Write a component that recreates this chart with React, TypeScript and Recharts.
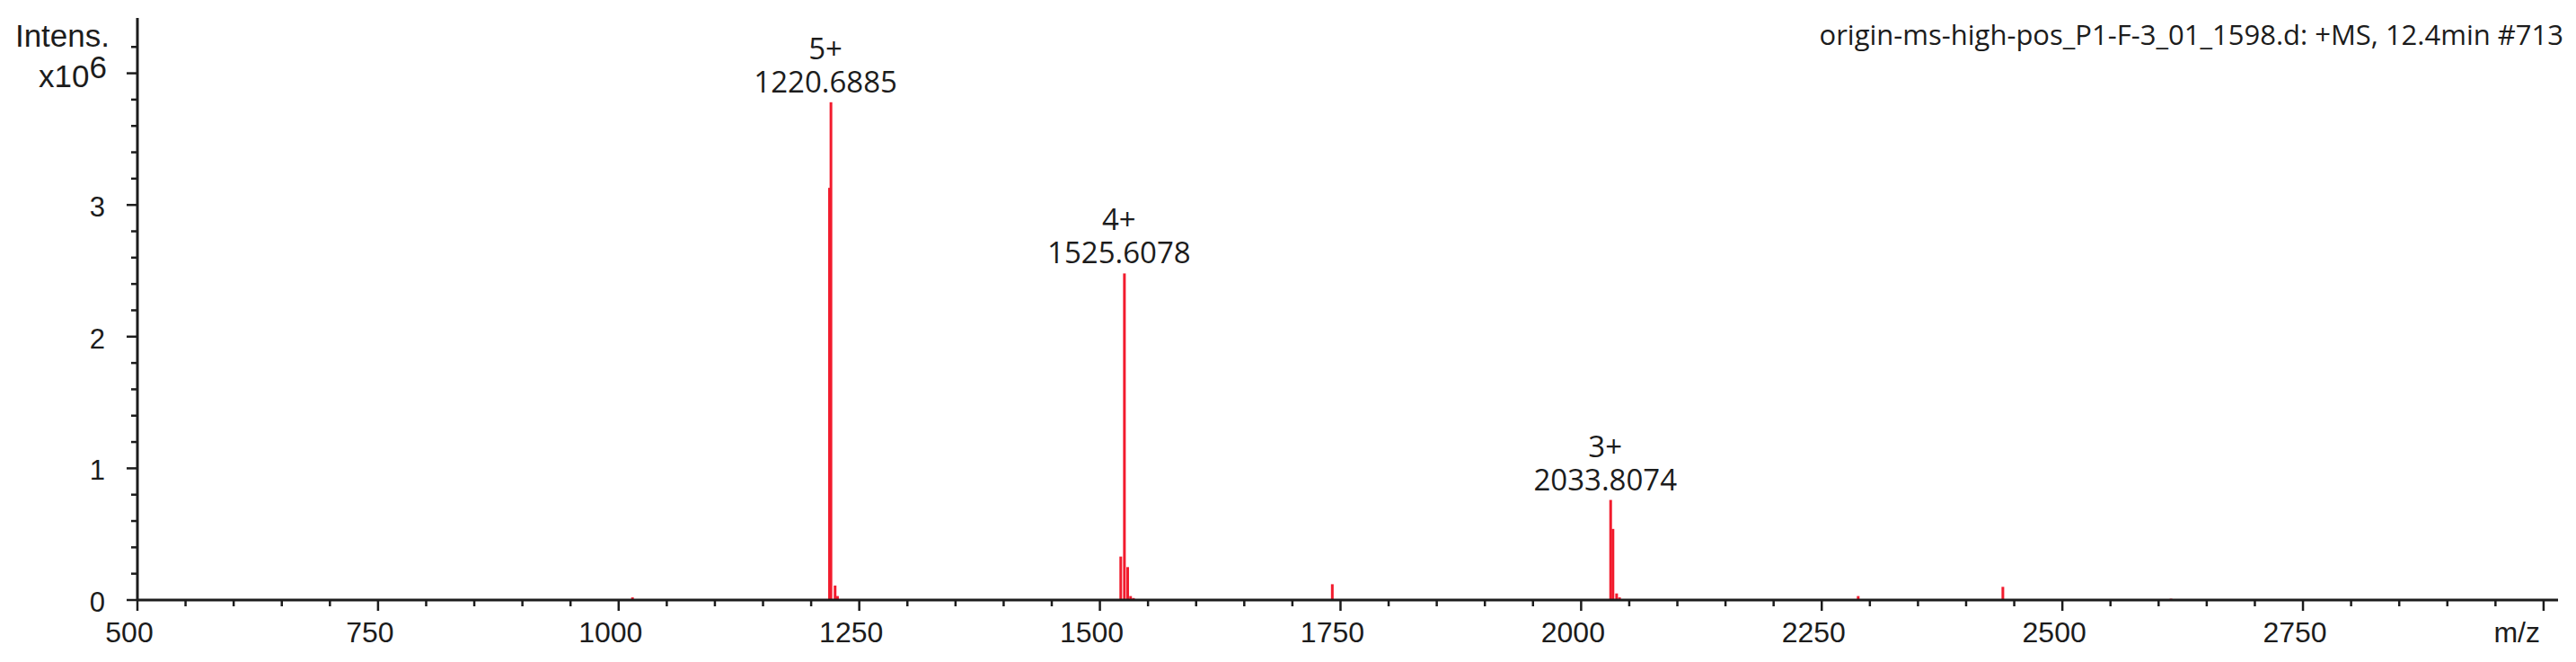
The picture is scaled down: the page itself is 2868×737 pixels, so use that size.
import { Bar, BarChart, LabelList, XAxis, YAxis } from "recharts";

// stick spectrum, intensities in units of 1e6
const PEAK_MZ = [
  1014.5, 1219.2, 1220.69, 1225.0, 1227.5, 1521.8, 1525.61, 1529.0, 1532.0,
  1535.0, 1741.6, 2030.8, 2033.2, 2037.0, 2040.0, 2288.0, 2438.3, 2613.0,
];
const PEAK_INTENSITY = [
  0.02, 3.13, 3.78, 0.11, 0.03, 0.33, 2.48, 0.25, 0.03, 0.015, 0.12, 0.76, 0.54,
  0.05, 0.02, 0.03, 0.1, 0.01,
];

// annotated peaks
const LABEL_MZ = [1220.69, 1525.61, 2030.8];
const LABEL_CHARGE = ["5+", "4+", "3+"];
const LABEL_TEXT = ["1220.6885", "1525.6078", "2033.8074"];

const X_TICKS = Array.from({ length: 51 }, (_, i) => 500 + i * 50);
const Y_TICKS = Array.from({ length: 22 }, (_, i) => +(i * 0.2).toFixed(1));
const Y_LABELS = [0, 1, 2, 3];

const TITLE = "origin-ms-high-pos_P1-F-3_01_1598.d: +MS, 12.4min #713";

const RED = "#f21b2d";
const INK = "#1c1c1c";
const AXIS_FONT = "'Liberation Sans', Arial, sans-serif";
const LABEL_FONT = "'Open Sans', 'Noto Sans', sans-serif";

const rows = PEAK_MZ.map((mz, i) => {
  const li = LABEL_MZ.indexOf(mz);
  return { mz, intensity: PEAK_INTENSITY[i], tag: li >= 0 ? li : null };
});

const Stick = (props: any) => {
  const { x, y, width, height } = props;
  if (height == null || isNaN(height)) return null;
  return <rect x={x + width / 2 - 1.5} y={y} width={3} height={Math.max(height, 0.8)} fill={RED} />;
};

const XTick = (props: any) => {
  const { x, y, payload } = props;
  const v = payload.value;
  const major = v % 250 === 0;
  return (
    <g>
      <line x1={x} x2={x} y1={y} y2={y + (major ? 12 : 7)} stroke={INK} strokeWidth={2.5} />
      {major && (
        <text
          x={v === 3000 ? x - 4 : x - 9}
          y={y + 47}
          textAnchor={v === 3000 ? "end" : "middle"}
          fontFamily={AXIS_FONT}
          fontSize={32}
          fill={INK}
        >
          {v === 3000 ? "m/z" : v}
        </text>
      )}
    </g>
  );
};

const YTick = (props: any) => {
  const { x, y, payload } = props;
  const v = payload.value;
  const major = Math.abs(v - Math.round(v)) < 1e-6;
  return (
    <g>
      <line x1={x - (major ? 12 : 7)} x2={x} y1={y} y2={y} stroke={INK} strokeWidth={2.5} />
      {major && Y_LABELS.includes(Math.round(v)) && (
        <text x={x - 36} y={y + 13} textAnchor="end" fontFamily={AXIS_FONT} fontSize={31} fill={INK}>
          {Math.round(v)}
        </text>
      )}
    </g>
  );
};

const PeakLabel = (props: any) => {
  const { x, y, width, value } = props;
  if (value == null) return null;
  const cx = x + width / 2 - 6;
  return (
    <g fontFamily={LABEL_FONT} fontSize={33} fill={INK} textAnchor="middle">
      <text x={cx} y={y - 48}>
        {LABEL_CHARGE[value]}
      </text>
      <text x={cx} y={y - 11}>
        {LABEL_TEXT[value]}
      </text>
    </g>
  );
};

export default function App() {
  return (
    <div style={{ position: "absolute", left: 0, top: 0, width: 2868, height: 737, background: "#fff" }}>
      <BarChart width={2868} height={737} data={rows} margin={{ top: 20, right: 20, left: 0, bottom: 0 }}>
        <XAxis
          dataKey="mz"
          type="number"
          domain={[500, 3015]}
          ticks={X_TICKS}
          interval={0}
          tickLine={false}
          tickSize={0}
          tickMargin={0}
          tick={(p: any) => <XTick {...p} />}
          height={69}
          axisLine={{ stroke: INK, strokeWidth: 3 }}
        />
        <XAxis
          xAxisId="top"
          orientation="top"
          type="number"
          domain={[500, 3015]}
          tick={false}
          tickLine={false}
          height={0}
          axisLine={{ stroke: INK, strokeWidth: 3 }}
        />
        <YAxis
          type="number"
          domain={[0, 4.42]}
          ticks={Y_TICKS}
          interval={0}
          tickLine={false}
          tickSize={0}
          tickMargin={0}
          tick={(p: any) => <YTick {...p} />}
          width={153}
          axisLine={{ stroke: INK, strokeWidth: 3 }}
        />
        <YAxis
          yAxisId="right"
          orientation="right"
          type="number"
          domain={[0, 4.42]}
          tick={false}
          tickLine={false}
          width={0}
          axisLine={{ stroke: INK, strokeWidth: 3 }}
        />
        <Bar dataKey="intensity" shape={<Stick />} isAnimationActive={false}>
          <LabelList dataKey="tag" content={<PeakLabel />} />
        </Bar>
      </BarChart>
      <svg
        width={2868}
        height={737}
        style={{ position: "absolute", left: 0, top: 0, pointerEvents: "none" }}
      >
        <text x={122} y={52} textAnchor="end" fontFamily={AXIS_FONT} fontSize={35} fill={INK}>
          Intens.
        </text>
        <text x={119} y={97} textAnchor="end" fontFamily={AXIS_FONT} fontSize={35} fill={INK}>
          x10
          <tspan dy={-10}>6</tspan>
        </text>
        <text x={2854} y={50} textAnchor="end" fontFamily={LABEL_FONT} fontSize={31} fill={INK}>
          {TITLE}
        </text>
      </svg>
    </div>
  );
}
